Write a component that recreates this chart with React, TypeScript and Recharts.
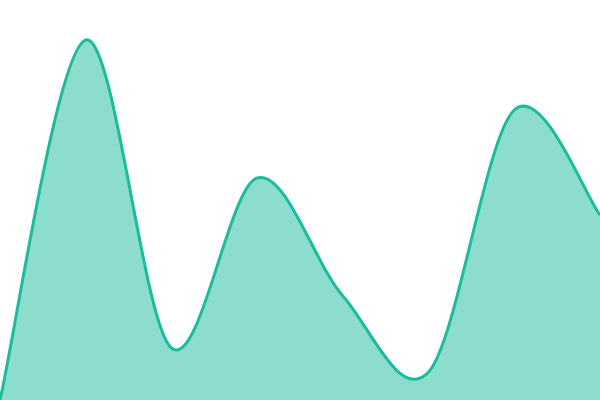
import { AreaChart, Area, XAxis, YAxis } from 'recharts';

const labels = ['A', 'B', 'C', 'D', 'E', 'F', 'G', 'H'];
const values = [0, 360, 52, 222, 104, 28, 290, 185];

const data = labels.map((name, i) => ({ name, value: values[i] }));

// cardinal spline (tension 0), same as d3.curveCardinal
class Cardinal {
  _context: any;
  _line: number = NaN;
  _xs: number[] = [];
  _ys: number[] = [];
  constructor(context: any) {
    this._context = context;
  }
  areaStart() {
    this._line = 0;
  }
  areaEnd() {
    this._line = NaN;
  }
  lineStart() {
    this._xs = [];
    this._ys = [];
  }
  point(x: number, y: number) {
    this._xs.push(+x);
    this._ys.push(+y);
  }
  lineEnd() {
    const xs = this._xs;
    const ys = this._ys;
    const n = xs.length;
    const ctx = this._context;
    const k = 1 / 6;
    if (n) {
      if (this._line) ctx.lineTo(xs[0], ys[0]);
      else ctx.moveTo(xs[0], ys[0]);
      for (let i = 0; i < n - 1; i++) {
        const i0 = Math.max(i - 1, 0);
        const i3 = Math.min(i + 2, n - 1);
        ctx.bezierCurveTo(
          xs[i] + k * (xs[i + 1] - xs[i0]),
          ys[i] + k * (ys[i + 1] - ys[i0]),
          xs[i + 1] - k * (xs[i3] - xs[i]),
          ys[i + 1] - k * (ys[i3] - ys[i]),
          xs[i + 1],
          ys[i + 1],
        );
      }
    }
    if (this._line || (this._line !== 0 && n === 1)) ctx.closePath();
    this._line = 1 - this._line;
  }
}

const cardinal = (context: any) => new Cardinal(context);

export default function App() {
  return (
    <div style={{ position: 'fixed', top: 0, left: 0, width: 600, height: 400, background: '#fff' }}>
      <AreaChart width={600} height={400} data={data} margin={{ top: 0, right: 0, left: 0, bottom: 0 }}>
        <XAxis dataKey="name" hide />
        <YAxis hide domain={[0, 400]} />
        <Area
          type={cardinal as any}
          dataKey="value"
          stroke="#1abc9c"
          strokeWidth={3}
          fill="#1abc9c"
          fillOpacity={0.5}
          dot={false}
          activeDot={false}
          isAnimationActive={false}
        />
      </AreaChart>
    </div>
  );
}
